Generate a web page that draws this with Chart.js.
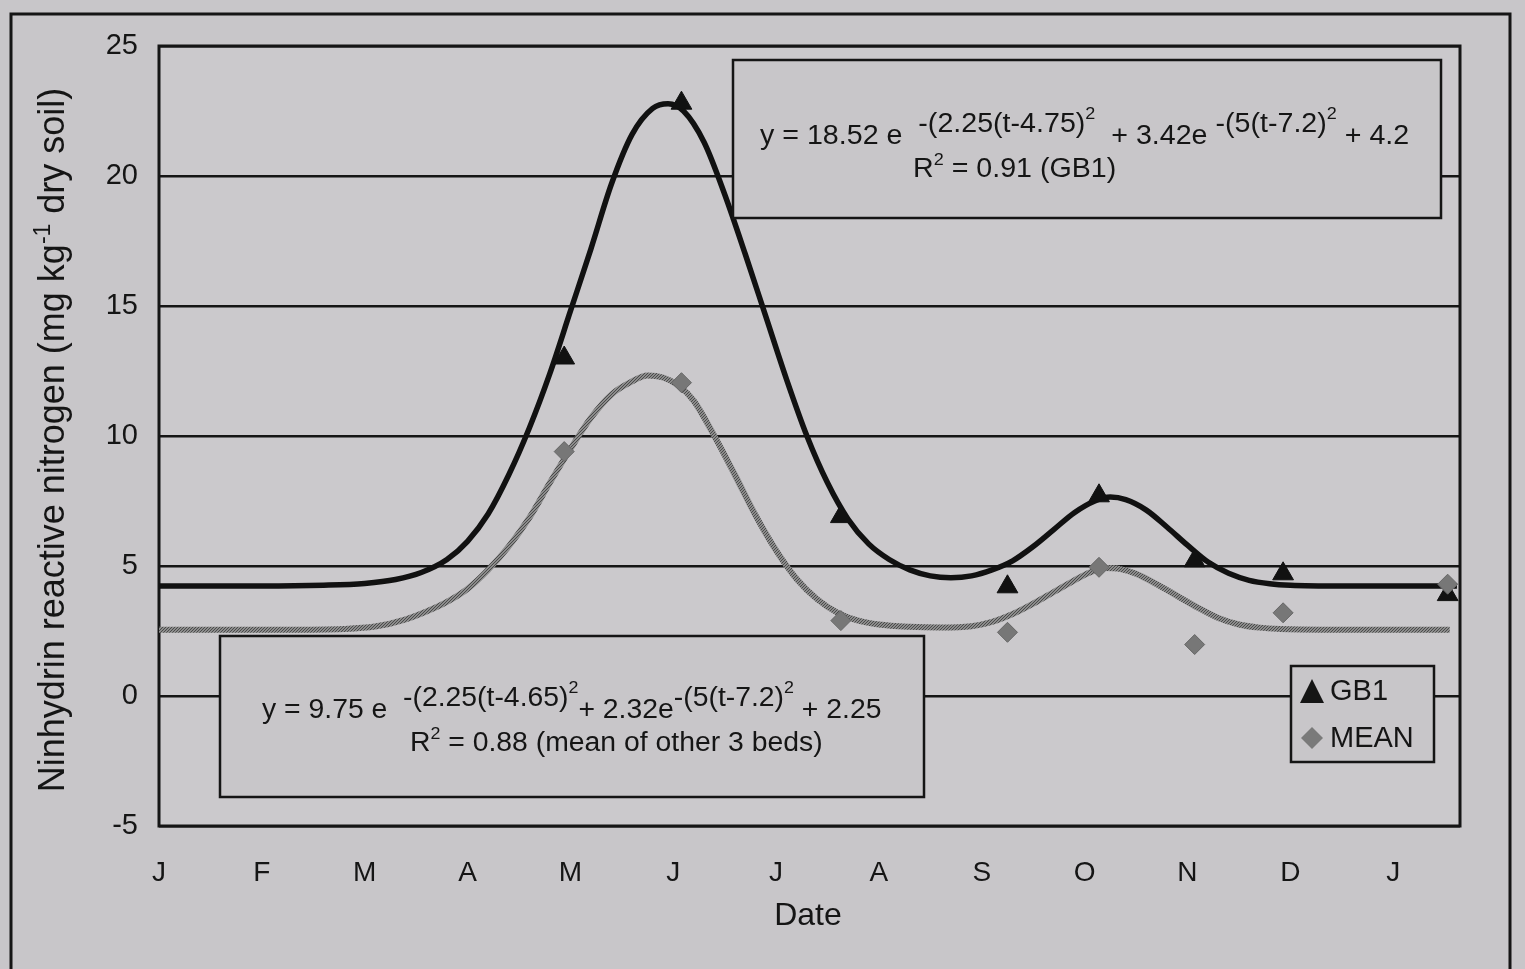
<!DOCTYPE html>
<html lang="en">
<head>
<meta charset="UTF-8">
<title>Ninhydrin reactive nitrogen</title>
<script src="https://cdn.jsdelivr.net/npm/chart.js"></script>
<style>
  body { margin: 0; background: #c8c6c9; }
  #wrap { width: 1525px; height: 969px; }
</style>
</head>
<body>
<div id="wrap"><canvas id="chart" width="1525" height="969"></canvas></div>
<script>
// month letters along the x axis (0 = January)
const months = ['J', 'F', 'M', 'A', 'M', 'J', 'J', 'A', 'S', 'O', 'N', 'D', 'J'];
const yTicks = [-5, 0, 5, 10, 15, 20, 25];

// sampling dates (months from 1 Jan) and measured values
const sampleT = [3.94, 5.08, 6.63, 8.25, 9.14, 10.07, 10.93, 12.53];
const gb1Obs  = [13.0, 22.8, 6.9, 4.2, 7.7, 5.2, 4.7, 3.9];
const meanObs = [9.4, 12.05, 2.9, 2.45, 4.95, 1.98, 3.2, 4.3];

// fitted curve for GB1
const gb1FitT = [0, 1.0, 1.6, 2.0, 2.3, 2.55, 2.8, 3.0, 3.2, 3.4, 3.6, 3.8, 4.0, 4.2, 4.4, 4.6, 4.8, 4.95,
  5.1, 5.3, 5.5, 5.7, 5.9, 6.1, 6.3, 6.5, 6.7, 6.9, 7.1, 7.3, 7.5, 7.7, 7.9, 8.1, 8.3, 8.5, 8.7, 8.9,
  9.1, 9.25, 9.4, 9.6, 9.8, 10.0, 10.2, 10.4, 10.6, 10.8, 11.0, 11.5, 12.0, 12.62];
const gb1FitV = [4.23, 4.23, 4.26, 4.33, 4.48, 4.75, 5.25, 5.95, 7.0, 8.5, 10.3, 12.4, 14.8, 17.2, 19.7, 21.6, 22.6, 22.78,
  22.5, 21.3, 19.3, 17.0, 14.6, 12.2, 10.0, 8.2, 6.8, 5.85, 5.25, 4.85, 4.62, 4.55, 4.62, 4.85, 5.2, 5.75, 6.4, 7.05,
  7.5, 7.65, 7.55, 7.15, 6.5, 5.8, 5.15, 4.72, 4.45, 4.32, 4.26, 4.23, 4.23, 4.23];

// fitted curve for the mean of the other beds
const meanFitT = [0, 1.2, 1.8, 2.1, 2.4, 2.6, 2.8, 3.0, 3.2, 3.4, 3.6, 3.8, 4.0, 4.2, 4.4, 4.6, 4.75, 4.9,
  5.05, 5.2, 5.4, 5.6, 5.8, 6.0, 6.2, 6.4, 6.6, 6.8, 7.0, 7.3, 7.6, 7.9, 8.1, 8.3, 8.5, 8.7, 8.9,
  9.05, 9.2, 9.35, 9.5, 9.7, 9.9, 10.1, 10.3, 10.5, 10.7, 10.9, 11.3, 12.0, 12.55];
const meanFitV = [2.55, 2.55, 2.58, 2.67, 2.95, 3.25, 3.62, 4.12, 4.85, 5.75, 6.85, 8.2, 9.5, 10.7, 11.6, 12.1, 12.33, 12.25,
  11.95, 11.35, 10.0, 8.5, 6.95, 5.6, 4.5, 3.72, 3.2, 2.9, 2.75, 2.66, 2.63, 2.68, 2.85, 3.15, 3.55, 4.0, 4.45,
  4.75, 4.92, 4.88, 4.7, 4.3, 3.85, 3.4, 3.0, 2.75, 2.63, 2.58, 2.55, 2.55, 2.55];

const FONT = '"Liberation Sans", Arial, sans-serif';
const INK = '#151515';
const BG = '#c8c6c9';

const pairs = (xs, ys) => xs.map((x, i) => ({ x: x, y: ys[i] }));

// grainy grey used for the mean curve
function stipple() {
  const c = document.createElement('canvas');
  c.width = 3; c.height = 3;
  const g = c.getContext('2d');
  g.fillStyle = '#8c8c8c';
  g.fillRect(0, 0, 3, 3);
  g.fillStyle = '#4a4a4a';
  g.fillRect(0, 0, 1, 1);
  g.fillRect(2, 1, 1, 1);
  g.fillRect(1, 2, 1, 1);
  return g.createPattern(c, 'repeat');
}

// draws a run of text pieces [text, size, rise] and returns the end x
function richText(ctx, x, y, parts, sx) {
  ctx.save();
  ctx.translate(x, y);
  ctx.scale(sx || 1, 1);
  let cx = 0;
  parts.forEach(([txt, size, rise]) => {
    ctx.font = size + 'px ' + FONT;
    ctx.fillText(txt, cx, -rise);
    cx += ctx.measureText(txt).width;
  });
  ctx.restore();
  return x + cx * (sx || 1);
}

function richWidth(ctx, parts) {
  let w = 0;
  parts.forEach(([txt, size]) => {
    ctx.font = size + 'px ' + FONT;
    w += ctx.measureText(txt).width;
  });
  return w;
}

function box(ctx, x1, y1, x2, y2) {
  ctx.fillStyle = BG;
  ctx.fillRect(x1, y1, x2 - x1, y2 - y1);
  ctx.strokeStyle = INK;
  ctx.lineWidth = 2.5;
  ctx.strokeRect(x1, y1, x2 - x1, y2 - y1);
}

const decor = {
  id: 'decor',
  beforeDraw(chart) {
    const ctx = chart.ctx;
    const a = chart.chartArea;
    ctx.save();
    ctx.fillStyle = BG;
    ctx.fillRect(0, 0, chart.width, chart.height);
    ctx.fillStyle = '#cbc9cc';
    ctx.fillRect(a.left, a.top, a.right - a.left, a.bottom - a.top);
    // outer frame
    ctx.strokeStyle = INK;
    ctx.lineWidth = 3;
    ctx.beginPath();
    ctx.moveTo(11, 975); ctx.lineTo(11, 14); ctx.lineTo(1510, 14); ctx.lineTo(1510, 975);
    ctx.stroke();
    ctx.restore();
  },
  beforeDatasetsDraw(chart) {
    const ctx = chart.ctx;
    const a = chart.chartArea;
    ctx.save();
    ctx.strokeStyle = INK;
    ctx.lineWidth = 3;
    ctx.strokeRect(a.left, a.top, a.right - a.left, a.bottom - a.top);
    ctx.restore();
  },
  afterDraw(chart) {
    const ctx = chart.ctx;
    ctx.save();
    ctx.fillStyle = INK;
    ctx.textBaseline = 'alphabetic';
    ctx.textAlign = 'left';

    // GB1 equation
    box(ctx, 733, 60, 1441, 218);
    ctx.fillStyle = INK;
    richText(ctx, 760, 144, [
      ['y = 18.52 e  ', 27, 0], ['-(2.25(t-4.75)', 27, 12], ['2', 17, 25],
      ['  + 3.42e ', 27, 0], ['-(5(t-7.2)', 27, 12], ['2', 17, 25], [' + 4.2', 27, 0]
    ], 1.06);
    richText(ctx, 913, 177, [['R', 27, 0], ['2', 17, 12], [' = 0.91 (GB1)', 27, 0]], 1.06);

    // mean equation
    box(ctx, 220, 636, 924, 797);
    ctx.fillStyle = INK;
    richText(ctx, 262, 718, [
      ['y = 9.75 e  ', 27, 0], ['-(2.25(t-4.65)', 27, 12], ['2', 17, 25],
      ['+ 2.32e', 27, 0], ['-(5(t-7.2)', 27, 12], ['2', 17, 25], [' + 2.25', 27, 0]
    ], 1.05);
    richText(ctx, 410, 751, [['R', 27, 0], ['2', 17, 12], [' = 0.88 (mean of other 3 beds)', 27, 0]], 1.05);

    // legend
    box(ctx, 1291, 666, 1434, 762);
    ctx.fillStyle = INK;
    ctx.beginPath();
    ctx.moveTo(1312, 679); ctx.lineTo(1324, 703); ctx.lineTo(1300, 703); ctx.closePath();
    ctx.fill();
    ctx.fillStyle = '#7a7a7a';
    ctx.beginPath();
    ctx.moveTo(1312, 727); ctx.lineTo(1323, 738); ctx.lineTo(1312, 749); ctx.lineTo(1301, 738); ctx.closePath();
    ctx.fill();
    ctx.fillStyle = INK;
    ctx.font = '29px ' + FONT;
    ctx.textBaseline = 'middle';
    ctx.fillText('GB1', 1330, 692);
    ctx.fillText('MEAN', 1330, 739);

    // x axis title
    ctx.textAlign = 'center';
    ctx.font = '32px ' + FONT;
    ctx.fillText('Date', 808, 916);

    // y axis title with superscript
    const yParts = [['Ninhydrin reactive nitrogen (mg kg', 36, 0], ['-1', 23, 14], [' dry soil)', 36, 0]];
    ctx.textAlign = 'left';
    ctx.textBaseline = 'alphabetic';
    const w = richWidth(ctx, yParts);
    ctx.translate(64, 440);
    ctx.rotate(-Math.PI / 2);
    richText(ctx, -w / 2, 0, yParts);
    ctx.restore();
  }
};

const ctx = document.getElementById('chart').getContext('2d');
new Chart(ctx, {
  type: 'scatter',
  data: {
    datasets: [
      {
        label: 'GB1 fit',
        data: pairs(gb1FitT, gb1FitV),
        showLine: true,
        borderColor: '#111',
        borderWidth: 5.5,
        pointRadius: 0,
        cubicInterpolationMode: 'monotone',
        order: 3
      },
      {
        label: 'MEAN fit',
        data: pairs(meanFitT, meanFitV),
        showLine: true,
        borderColor: stipple(),
        borderWidth: 6,
        pointRadius: 0,
        cubicInterpolationMode: 'monotone',
        order: 2
      },
      {
        label: 'GB1',
        data: pairs(sampleT, gb1Obs),
        pointStyle: 'triangle',
        pointRadius: 12,
        backgroundColor: '#111',
        borderColor: '#111',
        borderWidth: 1,
        order: 1
      },
      {
        label: 'MEAN',
        data: pairs(sampleT, meanObs),
        pointStyle: 'rectRot',
        pointRadius: 10,
        backgroundColor: '#777',
        borderColor: '#666',
        borderWidth: 1,
        order: 0
      }
    ]
  },
  options: {
    responsive: false,
    animation: false,
    layout: { padding: { left: 0, top: 46, right: 65, bottom: 0 } },
    plugins: { legend: { display: false }, tooltip: { enabled: false } },
    scales: {
      x: {
        type: 'linear',
        min: 0,
        max: 12.65,
        afterBuildTicks: s => { s.ticks = months.map((m, i) => ({ value: i })); },
        afterFit: s => { s.height = 143; },
        ticks: {
          autoSkip: false,
          maxRotation: 0,
          padding: 30,
          color: INK,
          font: { family: FONT, size: 28 },
          callback: v => months[v]
        },
        grid: { display: false, drawTicks: false },
        border: { display: false }
      },
      y: {
        min: -5,
        max: 25,
        afterBuildTicks: s => { s.ticks = yTicks.map(v => ({ value: v })); },
        afterFit: s => { s.width = 159; },
        ticks: {
          padding: 21,
          color: INK,
          font: { family: FONT, size: 29 }
        },
        grid: { color: INK, lineWidth: 2.5, drawTicks: false },
        border: { display: false }
      }
    }
  },
  plugins: [decor]
});
</script>
</body>
</html>
